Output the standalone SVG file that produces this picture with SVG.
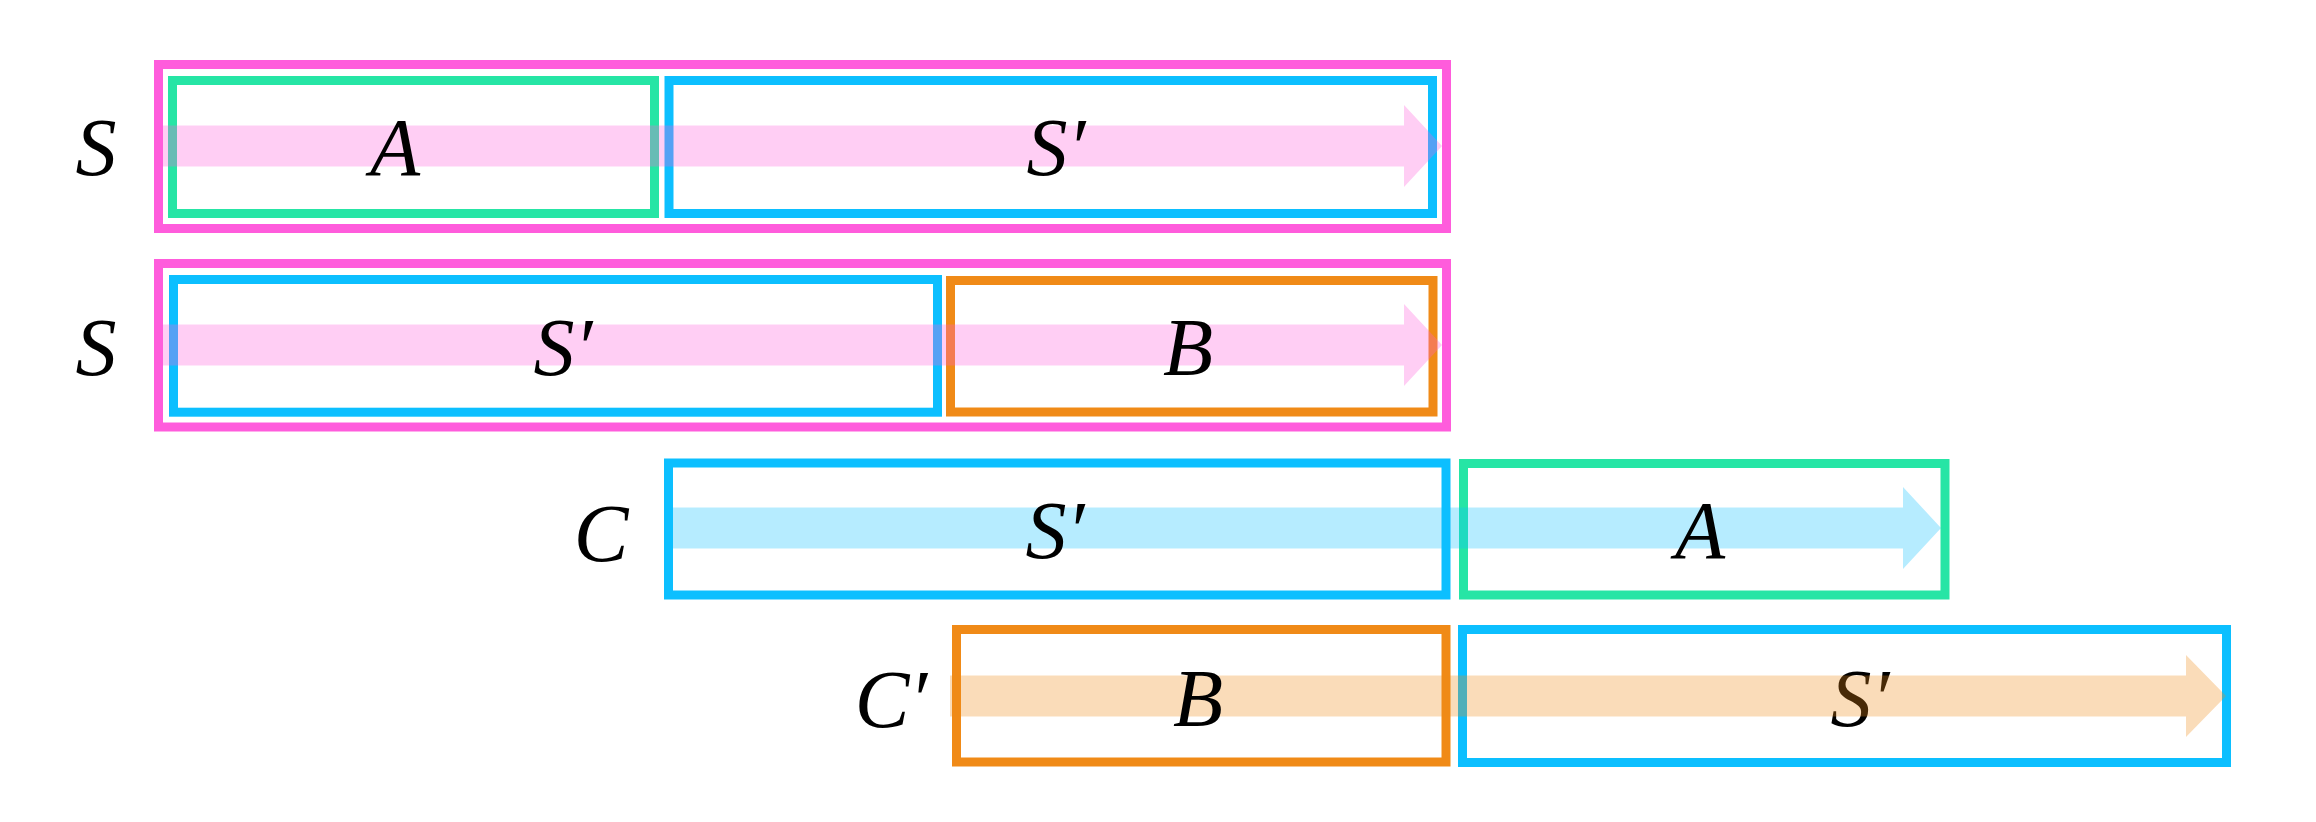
<svg xmlns="http://www.w3.org/2000/svg" width="2316" height="822" viewBox="0 0 2316 822">
<style>
.box{fill:none;stroke-width:9}
.pink{stroke:#FF5CDC}
.green{stroke:#26E5A5}
.blue{stroke:#0CBFFF}
.orange{stroke:#F08A17}
.lbl{font-family:"Liberation Serif","Times New Roman",serif;font-style:italic;font-size:82px;fill:#000;text-anchor:middle}
.band{opacity:0.3;stroke:none}
</style>
<rect width="2316" height="822" fill="#fff"/>
<g id="nodes">
  <g id="row1-S"><rect class="box pink" x="158.5" y="64.5" width="1288" height="164"/></g>
  <g id="row1-A"><rect class="box green" x="172.5" y="80.5" width="482" height="133"/></g>
  <g id="row1-Sp"><rect class="box blue" x="669" y="80.5" width="763.5" height="133"/></g>
  <g id="row2-S"><rect class="box pink" x="158.5" y="263.5" width="1288" height="163.5"/></g>
  <g id="row2-Sp"><rect class="box blue" x="173.5" y="279.5" width="764" height="132.7"/></g>
  <g id="row2-B"><rect class="box orange" x="950.5" y="280.5" width="482.5" height="131.5"/></g>
  <g id="row3-Sp"><rect class="box blue" x="668.5" y="463" width="777.5" height="132"/></g>
  <g id="row3-A"><rect class="box green" x="1463.5" y="463.5" width="481.5" height="131.5"/></g>
  <g id="row4-B"><rect class="box orange" x="956.5" y="629.5" width="489.5" height="132.5"/></g>
  <g id="row4-Sp"><rect class="box blue" x="1462.5" y="629.5" width="764" height="133"/><text id="row4-Sp-label" class="lbl" x="1860" y="726">S′</text></g>
</g>
<g id="connectors">
  <path class="band" fill="#FF5CDC" d="M154 125.5 H1404 V105 L1442 146 L1404 187 V166.5 H154 Z"/>
  <path class="band" fill="#FF5CDC" d="M154 324.5 H1404 V304 L1442 345 L1404 386 V365.5 H154 Z"/>
  <path class="band" fill="#0CBFFF" d="M664 507.5 H1903 V487 L1941 528 L1903 569 V548.5 H664 Z"/>
  <path class="band" fill="#F08A17" d="M950 675.5 H2186 V655 L2226 696 L2186 737 V716.5 H950 Z"/>
</g>
<g id="labels">
  <g id="row1-S-label"><text class="lbl" x="96" y="175">S</text></g>
  <g id="row1-A-label"><text class="lbl" x="395" y="175">A</text></g>
  <g id="row1-Sp-label"><text class="lbl" x="1056" y="175">S′</text></g>
  <g id="row2-S-label"><text class="lbl" x="96" y="375">S</text></g>
  <g id="row2-Sp-label"><text class="lbl" x="563" y="375">S′</text></g>
  <g id="row2-B-label"><text class="lbl" x="1188" y="375">B</text></g>
  <g id="row3-C"><text class="lbl" x="601" y="561">C</text></g>
  <g id="row3-Sp-label"><text class="lbl" x="1055" y="558">S′</text></g>
  <g id="row3-A-label"><text class="lbl" x="1700" y="558">A</text></g>
  <g id="row4-Cp"><text class="lbl" x="891" y="727">C′</text></g>
  <g id="row4-B-label"><text class="lbl" x="1198" y="726">B</text></g>
</g>
</svg>
